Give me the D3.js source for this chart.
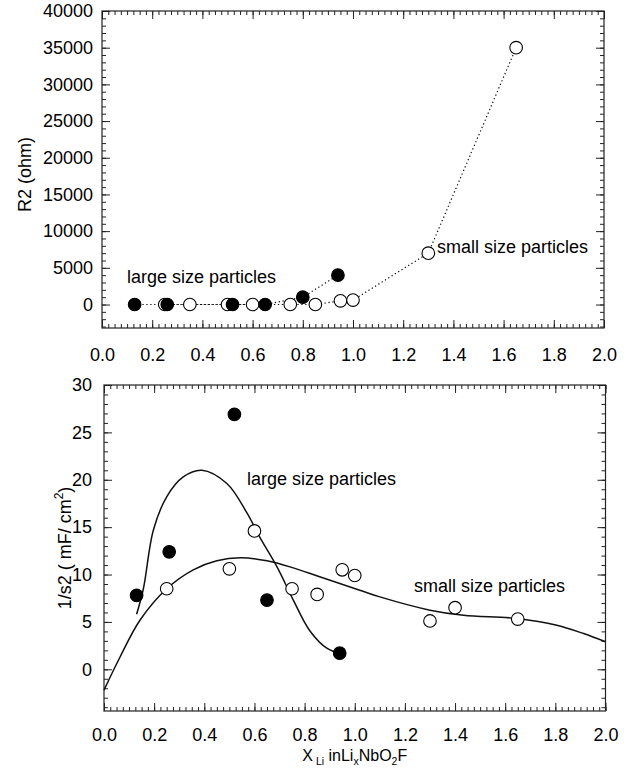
<!DOCTYPE html>
<html>
<head>
<meta charset="utf-8">
<script src="https://cdn.jsdelivr.net/npm/d3@7/dist/d3.min.js"></script>
<style>
  body { margin: 0; background: #fff; }
  svg { display: block; font-family: 'Liberation Sans', Arial, sans-serif; }
</style>
</head>
<body>
<div id="chart"></div>
<script>
// Données lues sur la figure
// panneau du haut : R2 (ohm)
const xLargeTop = [0.13, 0.26, 0.52, 0.65, 0.80, 0.94];
const r2Large = [0, 0, 0, 0, 1000, 4000];
const xSmallTop = [0.25, 0.35, 0.50, 0.60, 0.75, 0.85, 0.95, 1.00, 1.30, 1.65];
const r2Small = [0, 0, 0, 0, 0, 0, 500, 600, 7000, 35000];

// panneau du bas : 1/s2
const xLargeBot = [0.13, 0.26, 0.52, 0.65, 0.94];
const capLarge = [7.8, 12.4, 26.9, 7.3, 1.7];
const xSmallBot = [0.25, 0.50, 0.60, 0.75, 0.85, 0.95, 1.00, 1.30, 1.40, 1.65];
const capSmall = [8.5, 10.6, 14.6, 8.5, 7.9, 10.5, 9.9, 5.1, 6.5, 5.3];

const fitLargeX = [0.13, 0.157, 0.197, 0.25, 0.316, 0.39, 0.49, 0.57, 0.62, 0.69, 0.755, 0.82, 0.89, 0.94];
const fitLargeY = [5.8, 8.5, 14.7, 18.2, 20.3, 21.0, 19.6, 16.5, 14.0, 10.8, 7.3, 4.1, 2.2, 1.7];
const fitSmallX = [0.0, 0.064, 0.144, 0.25, 0.356, 0.45, 0.543, 0.65, 0.755, 0.86, 1.02, 1.10, 1.30, 1.434, 1.647, 1.806, 1.913, 2.0];
const fitSmallY = [-2.2, 1.3, 5.2, 8.5, 10.5, 11.45, 11.77, 11.45, 10.7, 9.76, 8.35, 7.64, 6.24, 5.7, 5.36, 4.65, 3.77, 2.9];

// ticks
const xTicks = [0, 0.2, 0.4, 0.6, 0.8, 1.0, 1.2, 1.4, 1.6, 1.8, 2.0];
const r2Ticks = [0, 5000, 10000, 15000, 20000, 25000, 30000, 35000, 40000];
const capTicks = [0, 5, 10, 15, 20, 25, 30];

const width = 629;
const height = 768;
const fontSize = 18;

const svg = d3.select('#chart').append('svg')
  .attr('width', width)
  .attr('height', height);

const topBox = { left: 102, right: 604, top: 11, bottom: 328 };
const botBox = { left: 104, right: 605.5, top: 385, bottom: 711 };

const xTop = d3.scaleLinear().domain([0, 2]).range([topBox.left, topBox.right]);
const yTop = d3.scaleLinear().domain([-3200, 40000]).range([topBox.bottom, topBox.top]);
const xBot = d3.scaleLinear().domain([0, 2]).range([botBox.left, botBox.right]);
const yBot = d3.scaleLinear().domain([-4.4, 30]).range([botBox.bottom, botBox.top]);

function drawAxes (box, x, y, yTicks, yMinorStep, yPad, xPad) {
  const g = svg.append('g').attr('class', 'axes');
  const xMinor = d3.range(0, 2.0001, 0.025);
  const y0 = Math.ceil(y.domain()[0] / yMinorStep) * yMinorStep;
  const yMinor = d3.range(y0, y.domain()[1] + 1e-6, yMinorStep);

  const axes = [
    [d3.axisBottom(x).tickValues(xTicks).tickSize(-8).tickPadding(xPad).tickFormat(d3.format('.1f')), box.bottom, 'x'],
    [d3.axisTop(x).tickValues(xTicks).tickSize(-8).tickFormat(''), box.top, 'x'],
    [d3.axisBottom(x).tickValues(xMinor).tickSize(-4).tickFormat(''), box.bottom, 'x'],
    [d3.axisTop(x).tickValues(xMinor).tickSize(-4).tickFormat(''), box.top, 'x'],
    [d3.axisLeft(y).tickValues(yTicks).tickSize(-8).tickPadding(yPad).tickFormat(d3.format('d')), box.left, 'y'],
    [d3.axisRight(y).tickValues(yTicks).tickSize(-8).tickFormat(''), box.right, 'y'],
    [d3.axisLeft(y).tickValues(yMinor).tickSize(-4).tickFormat(''), box.left, 'y'],
    [d3.axisRight(y).tickValues(yMinor).tickSize(-4).tickFormat(''), box.right, 'y']
  ];
  axes.forEach(([ax, pos, dir]) => {
    const a = g.append('g')
      .attr('transform', dir === 'x' ? `translate(0,${pos})` : `translate(${pos},0)`)
      .call(ax.tickSizeOuter(0));
    a.select('.domain').remove();
    a.selectAll('line').attr('stroke', '#222').attr('stroke-width', 1);
    a.selectAll('text').attr('font-size', fontSize).attr('fill', '#000')
      .attr('font-family', "'Liberation Sans', Arial, sans-serif");
  });

  g.append('rect')
    .attr('x', box.left).attr('y', box.top)
    .attr('width', box.right - box.left).attr('height', box.bottom - box.top)
    .attr('fill', 'none').attr('stroke', '#222').attr('stroke-width', 1.2);
}

function dottedLine (xs, ys, x, y) {
  const pts = xs.map((d, i) => [d, ys[i]]);
  svg.append('path')
    .datum(pts)
    .attr('d', d3.line().x(d => x(d[0])).y(d => y(d[1])))
    .attr('fill', 'none')
    .attr('stroke', '#111')
    .attr('stroke-width', 1.2)
    .attr('stroke-dasharray', '1.3,2.6');
}

function fitLine (xs, ys, x, y) {
  const pts = xs.map((d, i) => [d, ys[i]]);
  svg.append('path')
    .datum(pts)
    .attr('d', d3.line().x(d => x(d[0])).y(d => y(d[1])).curve(d3.curveCatmullRom.alpha(0.5)))
    .attr('fill', 'none')
    .attr('stroke', '#111')
    .attr('stroke-width', 1.5);
}

function dots (xs, ys, x, y, filled) {
  svg.append('g').selectAll('circle')
    .data(xs.map((d, i) => [d, ys[i]]))
    .enter()
    .append('circle')
    .attr('cx', d => x(d[0]))
    .attr('cy', d => y(d[1]))
    .attr('r', 6.3)
    .attr('fill', filled ? '#000' : '#fff')
    .attr('stroke', '#000')
    .attr('stroke-width', 1.1);
}

function label (txt, x, y, size) {
  svg.append('text')
    .attr('x', x).attr('y', y)
    .attr('font-size', size)
    .attr('fill', '#000')
    .text(txt);
}

// Panneau du haut
drawAxes(topBox, xTop, yTop, r2Ticks, 1000, 9, 20);
dottedLine(xSmallTop, r2Small, xTop, yTop);
dottedLine(xLargeTop, r2Large, xTop, yTop);
dots(xSmallTop, r2Small, xTop, yTop, false);
dots(xLargeTop, r2Large, xTop, yTop, true);
label('large size particles', 127, 283, 18);
label('small size particles', 437, 253, 18);

svg.append('text')
  .attr('transform', `translate(31,${(topBox.top + topBox.bottom) / 2 + 5}) rotate(-90)`)
  .attr('text-anchor', 'middle')
  .attr('font-size', fontSize)
  .text('R2 (ohm)');

// Panneau du bas
drawAxes(botBox, xBot, yBot, capTicks, 1, 12, 17);
fitLine(fitSmallX, fitSmallY, xBot, yBot);
fitLine(fitLargeX, fitLargeY, xBot, yBot);
dots(xSmallBot, capSmall, xBot, yBot, false);
dots(xLargeBot, capLarge, xBot, yBot, true);
label('large size particles', 247, 485, 18);
label('small size particles', 414, 592, 18);

const yt = svg.append('text')
  .attr('transform', `translate(71,${(botBox.top + botBox.bottom) / 2}) rotate(-90)`)
  .attr('text-anchor', 'middle')
  .attr('font-size', fontSize);
yt.append('tspan').text('1/s2 ( mF/ cm');
yt.append('tspan').attr('font-size', 12).attr('dy', -8).text('2');
yt.append('tspan').attr('dy', 8).text(')');

const xt = svg.append('text')
  .attr('x', (botBox.left + botBox.right) / 2)
  .attr('y', 761)
  .attr('text-anchor', 'middle')
  .attr('font-size', 16);
xt.append('tspan').text('X');
xt.append('tspan').attr('font-size', 10.5).attr('dy', 4).text(' Li');
xt.append('tspan').attr('dy', -4).text(' inLi');
xt.append('tspan').attr('font-size', 10.5).attr('dy', 4).text('x');
xt.append('tspan').attr('dy', -4).text('NbO');
xt.append('tspan').attr('font-size', 10.5).attr('dy', 4).text('2');
xt.append('tspan').attr('dy', -4).text('F');
</script>
</body>
</html>
